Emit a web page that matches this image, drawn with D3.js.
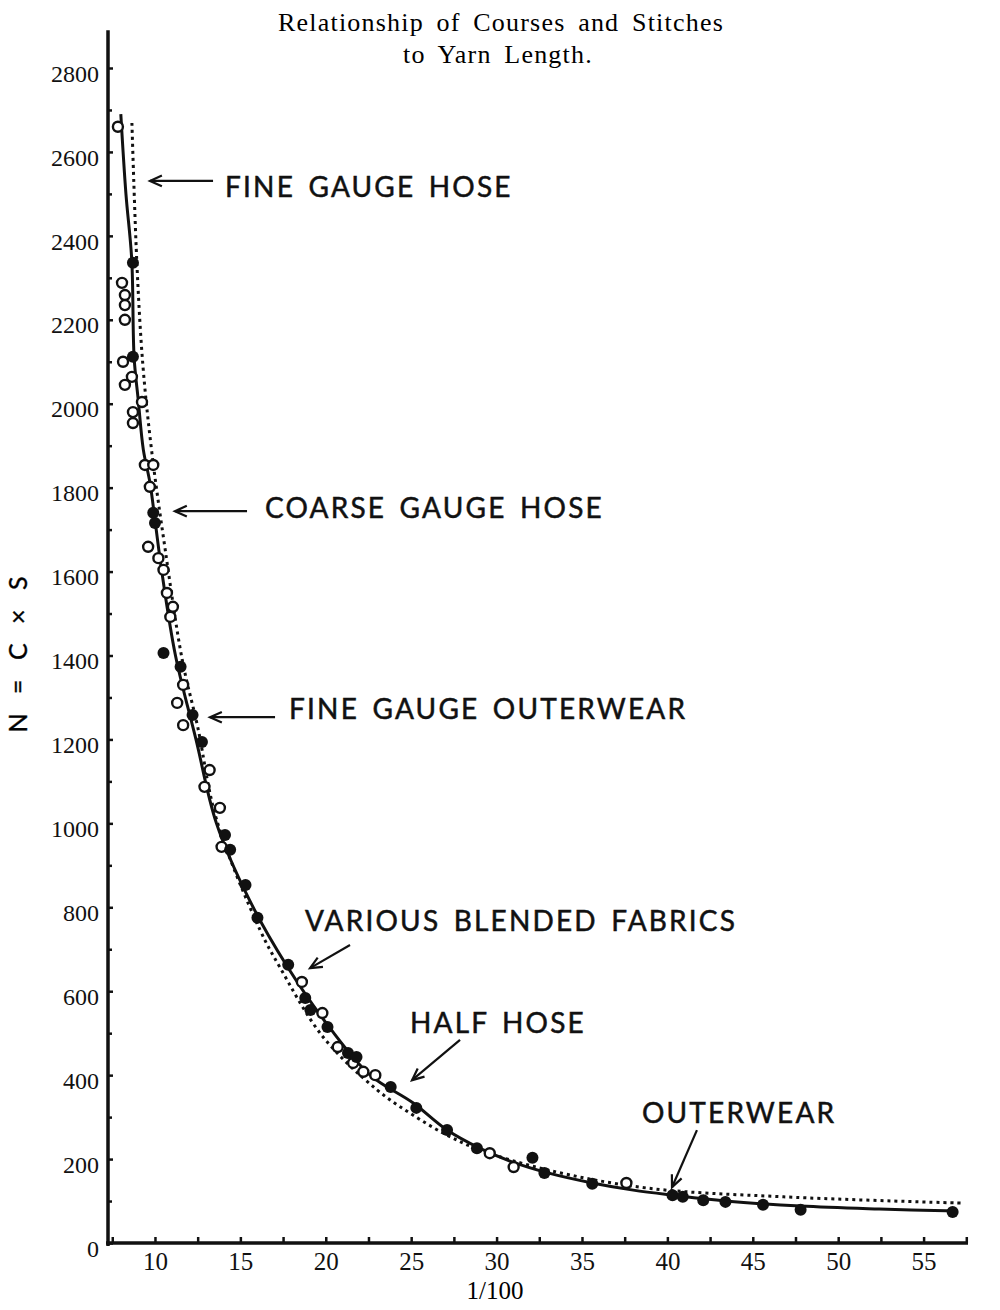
<!DOCTYPE html>
<html>
<head>
<meta charset="utf-8">
<script src="https://cdn.jsdelivr.net/npm/d3@7"></script>
<style>
  body { margin: 0; background: #fff; }
</style>
</head>
<body>
<div id="chart"></div>
<script>
// values: l/100 on x, N = C x S on y
const solidL = [8.0, 8.3, 8.64, 8.78, 9.02, 9.32, 9.71, 10.0, 10.4, 11.2, 12.4, 13.6, 15.5, 17.7, 20.25, 22.6, 25.1, 27.1, 29.0, 31.0, 33.0, 35.6, 38.0, 40.3, 43.4, 47.8, 52.4, 57.0]
const solidN = [2690, 2500, 2343, 2110, 2009, 1890, 1811, 1723, 1600, 1400, 1200, 1000, 820, 662, 512, 400, 334, 269, 226, 192, 167, 143, 126, 114, 100, 88, 81, 76]

const dottedL = [8.65, 8.95, 9.3, 9.82, 10.6, 11.6, 12.5, 13.6, 16.15, 17.3, 19.84, 23.0, 25.1, 27.1, 29.0, 33.0, 38.8, 46.8, 57.3]
const dottedN = [2669, 2326, 2088, 1883, 1652, 1389, 1230, 1010, 746, 658, 491, 365, 305, 257, 222, 174, 131, 110, 95]

const openL = [7.83, 8.07, 8.24, 8.24, 8.24, 8.13, 8.65, 8.24, 9.24, 8.71, 8.71, 9.41, 9.9, 9.7, 9.6, 10.2, 10.5, 10.7, 11.05, 10.9, 11.65, 11.3, 11.65, 13.2, 12.9, 13.8, 13.9, 18.6, 19.8, 20.7, 21.6, 22.2, 22.9, 29.6, 31.0, 37.6]
const openN = [2660, 2288, 2259, 2235, 2200, 2100, 2064, 2045, 2004, 1980, 1954, 1854, 1854, 1802, 1659, 1632, 1604, 1549, 1516, 1492, 1330, 1287, 1234, 1127, 1087, 1037, 944, 622, 548, 467, 429, 408, 400, 214, 181, 143]

const filledL = [8.71, 8.71, 9.9, 10.0, 10.5, 11.5, 12.2, 12.75, 14.1, 14.4, 15.3, 16.0, 17.8, 18.8, 19.1, 20.1, 21.3, 21.8, 23.8, 25.3, 27.1, 28.85, 32.1, 32.8, 35.6, 40.3, 40.9, 42.1, 43.4, 45.6, 47.8, 56.7]
const filledN = [2336, 2112, 1740, 1716, 1406, 1373, 1258, 1194, 972, 937, 853, 775, 663, 584, 555, 515, 453, 443, 372, 322, 269, 226, 203, 167, 141, 114, 110, 102, 98, 91, 79, 74]

const yTickValues = [0, 200, 400, 600, 800, 1000, 1200, 1400, 1600, 1800, 2000, 2200, 2400, 2600, 2800]
const yMinorValues = [100, 300, 500, 700, 900, 1100, 1300, 1500, 1700, 1900, 2100, 2300, 2500, 2700]
const xTickValues = [10, 15, 20, 25, 30, 35, 40, 45, 50, 55]
const xMinorValues = [7.5, 12.5, 17.5, 22.5, 27.5, 32.5, 37.5, 42.5, 47.5, 52.5, 57.5]

// labels with arrows, anchored in data units: text start, arrow tail, arrow head
const noteText = ["FINE GAUGE HOSE", "COARSE GAUGE HOSE", "FINE GAUGE OUTERWEAR", "VARIOUS BLENDED FABRICS", "HALF HOSE", "OUTERWEAR"]
const noteAt = [[14.1, 2493], [16.44, 1728], [17.85, 1249], [18.78, 743], [24.93, 500], [38.51, 286]]
const arrowFrom = [[13.4, 2531], [15.39, 1744], [17.03, 1253], [21.42, 710], [27.86, 484], [41.73, 269]]
const arrowTo = [[9.71, 2531], [11.17, 1744], [13.22, 1253], [19.08, 655], [25.05, 388], [40.27, 133]]

const width = 1000
const height = 1310

const svg = d3.select("#chart")
    .append("svg")
    .attr("width", width)
    .attr("height", height)

const x = d3.scaleLinear().domain([7.25, 57.6]).range([108, 968])
const y = d3.scaleLinear().domain([0, 2800]).range([1243, 68])

const serif = "'Liberation Serif', 'DejaVu Serif', serif"
const sans = "Lato, 'Open Sans', sans-serif"

// title
svg.append("text")
    .attr("x", 501).attr("y", 31)
    .attr("text-anchor", "middle")
    .style("font-family", serif).style("font-size", "26px")
    .style("word-spacing", "5px").style("letter-spacing", "1.2px")
    .text("Relationship of Courses and Stitches")
svg.append("text")
    .attr("x", 498).attr("y", 63)
    .attr("text-anchor", "middle")
    .style("font-family", serif).style("font-size", "26px")
    .style("word-spacing", "5px").style("letter-spacing", "1.2px")
    .text("to Yarn Length.")

// y axis
const yAxis = svg.append("g")
    .attr("transform", `translate(${x.range()[0]},0)`)
    .call(d3.axisLeft(y).tickValues(yTickValues).tickFormat(d3.format("d")).tickSize(-5).tickPadding(9))
yAxis.select(".domain").remove()
yAxis.selectAll("line").attr("stroke", "#111").attr("stroke-width", 2.5)
yAxis.selectAll("text")
    .attr("dy", "0.55em")
    .style("font-family", serif).style("font-size", "24px").attr("fill", "#111")

const yMinor = svg.append("g")
    .attr("transform", `translate(${x.range()[0]},0)`)
    .call(d3.axisLeft(y).tickValues(yMinorValues).tickSize(-4).tickFormat(""))
yMinor.select(".domain").remove()
yMinor.selectAll("line").attr("stroke", "#111").attr("stroke-width", 2.5)

svg.append("line")
    .attr("x1", x.range()[0]).attr("x2", x.range()[0])
    .attr("y1", y(0) + 3).attr("y2", y(2890))
    .attr("stroke", "#111").attr("stroke-width", 3.5)

// x axis
const xAxis = svg.append("g")
    .attr("transform", `translate(0,${y(0)})`)
    .call(d3.axisBottom(x).tickValues(xTickValues).tickSize(-6).tickPadding(9))
xAxis.select(".domain").remove()
xAxis.selectAll("line").attr("stroke", "#111").attr("stroke-width", 2.5)
xAxis.selectAll("text")
    .attr("dy", "0.71em")
    .style("font-family", serif).style("font-size", "25px").attr("fill", "#111")

const xMinor = svg.append("g")
    .attr("transform", `translate(0,${y(0)})`)
    .call(d3.axisBottom(x).tickValues(xMinorValues).tickSize(-6).tickFormat(""))
xMinor.select(".domain").remove()
xMinor.selectAll("line").attr("stroke", "#111").attr("stroke-width", 2.5)

svg.append("line")
    .attr("x1", x.range()[0] - 2).attr("x2", x(57.6))
    .attr("y1", y(0)).attr("y2", y(0))
    .attr("stroke", "#111").attr("stroke-width", 3.5)

// axis titles
svg.append("text")
    .attr("x", 495).attr("y", 1299)
    .attr("text-anchor", "middle")
    .style("font-family", serif).style("font-size", "25px")
    .text("1/100")
svg.append("text")
    .attr("transform", "translate(27,652) rotate(-90)")
    .attr("text-anchor", "middle")
    .style("font-family", sans).style("font-size", "25px")
    .attr("stroke", "#111").attr("stroke-width", 0.4)
    .style("letter-spacing", "5px").style("word-spacing", "3px")
    .text("N = C × S")

// curves
const line = d3.line()
    .x(d => x(d[0]))
    .y(d => y(d[1]))
    .curve(d3.curveCatmullRom.alpha(0.5))

svg.append("path")
    .datum(dottedL.map((l, i) => [l, dottedN[i]]))
    .attr("d", line)
    .attr("fill", "none")
    .attr("stroke", "#111")
    .attr("stroke-width", 3)
    .attr("stroke-dasharray", "3,4")

svg.append("path")
    .datum(solidL.map((l, i) => [l, solidN[i]]))
    .attr("d", line)
    .attr("fill", "none")
    .attr("stroke", "#111")
    .attr("stroke-width", 3)

// points
svg.append("g")
    .selectAll("circle")
    .data(openL.map((l, i) => [l, openN[i]]))
    .join("circle")
    .attr("cx", d => x(d[0]))
    .attr("cy", d => y(d[1]))
    .attr("r", 5)
    .attr("fill", "#fff")
    .attr("stroke", "#111")
    .attr("stroke-width", 2.4)

svg.append("g")
    .selectAll("circle")
    .data(filledL.map((l, i) => [l, filledN[i]]))
    .join("circle")
    .attr("cx", d => x(d[0]))
    .attr("cy", d => y(d[1]))
    .attr("r", 6)
    .attr("fill", "#111")

// annotations
for (let i = 0; i < noteText.length; i++) {
    svg.append("text")
        .attr("x", x(noteAt[i][0]))
        .attr("y", y(noteAt[i][1]))
        .style("font-family", sans).style("font-size", "28px")
        .style("letter-spacing", "2.2px").style("word-spacing", "4px")
        .attr("fill", "#111")
        .attr("stroke", "#111").attr("stroke-width", 0.5)
        .text(noteText[i])

    const x1 = x(arrowFrom[i][0]), y1 = y(arrowFrom[i][1])
    const x2 = x(arrowTo[i][0]), y2 = y(arrowTo[i][1])
    const ang = Math.atan2(y1 - y2, x1 - x2)
    const head = 13, spread = 0.42
    svg.append("line")
        .attr("x1", x1).attr("y1", y1).attr("x2", x2).attr("y2", y2)
        .attr("stroke", "#111").attr("stroke-width", 2.2)
    svg.append("path")
        .attr("d", `M${x2 + head * Math.cos(ang - spread)},${y2 + head * Math.sin(ang - spread)}L${x2},${y2}L${x2 + head * Math.cos(ang + spread)},${y2 + head * Math.sin(ang + spread)}`)
        .attr("fill", "none")
        .attr("stroke", "#111").attr("stroke-width", 2.2)
}
</script>
</body>
</html>
